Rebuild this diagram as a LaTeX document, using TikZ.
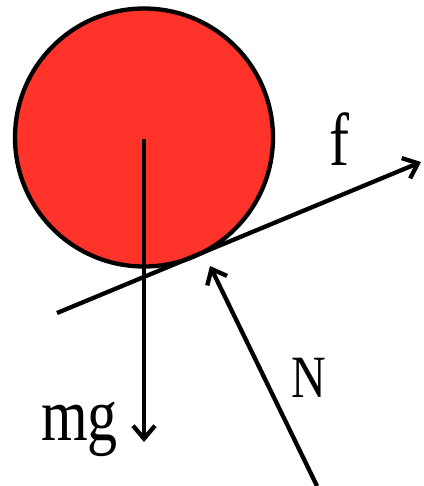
\documentclass[tikz,border=0pt]{standalone}
\usepackage{fontspec}
\setmainfont{Liberation Serif}
\usetikzlibrary{arrows.meta}
\definecolor{ballred}{RGB}{255,51,41}
\begin{document}
\begin{tikzpicture}[x=1pt,y=-1pt,
  force/.style={line width=4.3pt,-{Straight Barb[length=13pt,width=22pt,line width=4.3pt]}},
  lab/.style={inner sep=0,anchor=base west,xscale=0.8,transform shape,font=\fontsize{75}{75}\selectfont},
  labN/.style={inner sep=0,anchor=base west,xscale=0.8,transform shape,font=\fontsize{60}{60}\selectfont}]
\useasboundingbox (0,0) rectangle (423,486);
\node[circle,draw,line width=4.3pt,fill=ballred,minimum size=258pt,inner sep=0] (ball) at (144,137.5) {};
\coordinate (fS) at (57,313);
\coordinate (fE) at (421,162);
\coordinate (mgE) at (144,442);
\coordinate (nS) at (317,486);
\coordinate (nE) at (210,266);
\draw[force] (fS) -- (fE);
\draw[force] (ball.center) ++(0,1.5) coordinate (mgS) (mgS) -- (mgE);
\draw[force] (nS) -- (nE);
\node[lab] (flab) at (329,166) {f};
\node[lab] (mglab) at (41,440) {mg};
\node[labN] (nlab) at (291,397) {N};
\end{tikzpicture}
\end{document}
